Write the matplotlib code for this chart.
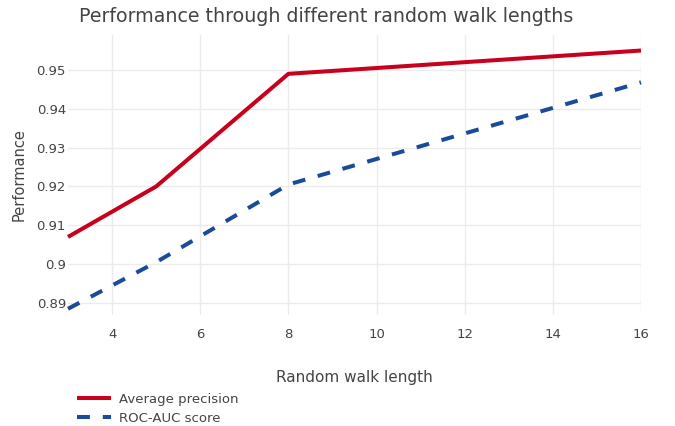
import matplotlib.pyplot as plt

# Veriler
walk_lengths = [3, 5, 8, 16]
avg_precision = [0.907, 0.920, 0.949, 0.955]
roc_auc = [0.8885, 0.9005, 0.9205, 0.9468]
x_ticks = [4, 6, 8, 10, 12, 14, 16]
y_ticks = [0.89, 0.90, 0.91, 0.92, 0.93, 0.94, 0.95]
y_tick_labels = ['0.89', '0.9', '0.91', '0.92', '0.93', '0.94', '0.95']

plt.rcParams['font.family'] = ['DejaVu Sans']

fig = plt.figure(figsize=(6.75, 4.26), dpi=100)
ax = fig.add_axes([68 / 675, 1 - 315 / 426, (641 - 68) / 675, (315 - 35) / 426])

red = '#c8001e'
blue = '#1a4b9b'
ax.plot(walk_lengths, avg_precision, color=red, lw=2.9, solid_capstyle='butt',
        label='Average precision', zorder=3, clip_on=False)
ax.plot(walk_lengths, roc_auc, color=blue, lw=2.9, ls=(0, (3.2, 3.2)),
        dash_capstyle='butt', label='ROC-AUC score', zorder=3, clip_on=False)

ax.set_xlim(3, 16)
ax.set_ylim(0.8869, 0.959)
ax.set_xticks(x_ticks)
ax.set_yticks(y_ticks)
ax.set_yticklabels(y_tick_labels)
ax.grid(True, color='#ebebeb', lw=1)
ax.set_axisbelow(True)
for s in ax.spines.values():
    s.set_visible(False)
ax.tick_params(length=0, labelsize=9.5, colors='#444444')
ax.tick_params(axis='y', pad=1.5)
ax.tick_params(axis='x', pad=9)

ax.set_xlabel('Random walk length', fontsize=11, color='#444444', labelpad=21)
ax.set_ylabel('Performance', fontsize=10.5, color='#444444', labelpad=7)

fig.text(326 / 675, 1 - 16 / 426, 'Performance through different random walk lengths',
         fontsize=13.7, color='#444444', ha='center', va='center')

leg = ax.legend(loc='upper left', bbox_to_anchor=(77 / 675, 1 - 393 / 426),
                bbox_transform=fig.transFigure, frameon=False, fontsize=9.5,
                handlelength=2.6, handletextpad=0.55, labelspacing=0.45,
                borderaxespad=0, borderpad=0)
for t in leg.get_texts():
    t.set_color('#444444')

fig.savefig('out.png', dpi=100)
